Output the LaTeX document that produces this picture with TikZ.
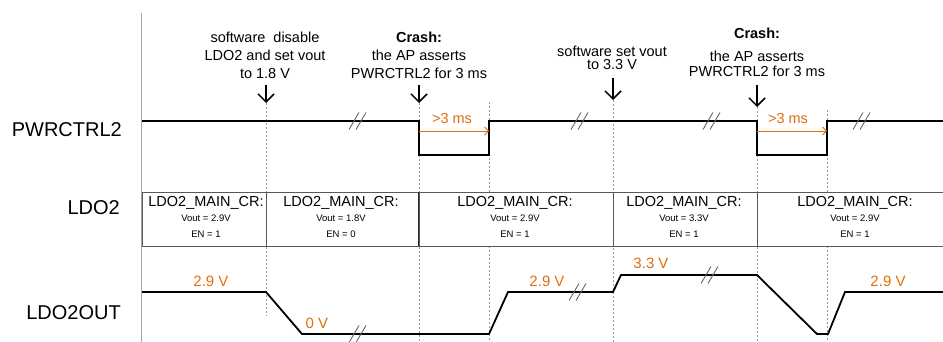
\documentclass[tikz,border=0pt]{standalone}
\usepackage{fontspec}
\setmainfont{Liberation Sans}
\usetikzlibrary{arrows.meta}
\definecolor{orng}{HTML}{E46C0A}
\newcommand\ldocellnodes[5]{%
  \node[cellhd] (#1h) at (#2,203) {LDO2\_MAIN\_CR:};
  \node[cellsm] (#1v) at (#2,218) {Vout = #3};
  \node[cellsm] (#1e) at (#2,234) {EN = #4};
}
\begin{document}
\begin{tikzpicture}[x=1pt,y=-1pt,
  sig/.style={line width=1.8pt, black, line join=miter},
  guide/.style={draw=black!40, line width=0.6pt, dash pattern=on 2pt off 2pt},
  brk/.style={draw=black!60, line width=0.9pt},
  ann/.style={font=\fontsize{14.5}{18}\selectfont, align=center, inner sep=0pt},
  lbl/.style={font=\fontsize{20}{24}\selectfont, anchor=east, inner sep=0pt},
  volt/.style={text=orng, font=\fontsize{15}{18}\selectfont, inner sep=0pt},
  cellbox/.style={draw=black!65, fill=white, line width=0.8pt, minimum height=54pt, inner sep=0pt},
  cellhd/.style={font=\fontsize{14.5}{17}\selectfont, inner sep=0pt},
  cellsm/.style={font=\fontsize{9.5}{11}\selectfont, inner sep=0pt},
  evarrow/.style={-{Straight Barb[length=8pt,width=16pt]}, line width=1.5pt},
  durarrow/.style={draw=orng, line width=0.8pt, -{Straight Barb[length=4pt,width=8pt]}}
]
\useasboundingbox (0,0) rectangle (943,342);

% guide lines
\coordinate (g1t) at (266,103); \coordinate (g1b) at (266,316);
\coordinate (g2t) at (419,103); \coordinate (g2b) at (419,342);
\coordinate (g3t) at (489,102); \coordinate (g3b) at (489,342);
\coordinate (g4t) at (613,100); \coordinate (g4b) at (613,342);
\coordinate (g5t) at (757,107); \coordinate (g5b) at (757,342);
\coordinate (g6t) at (827,110); \coordinate (g6b) at (827,342);
\foreach \i in {1,...,6} { \draw[guide] (g\i t) -- (g\i b); }

% row labels
\node[lbl] (lp) at (122,130) {PWRCTRL2};
\node[lbl] (ll) at (120,208) {LDO2};
\node[lbl] (lo) at (121,313) {LDO2OUT};

% LDO2 register table
\node[cellbox, minimum width=124pt] (c1) at (204,219) {};
\node[cellbox, minimum width=153pt] (c2) at (342.5,219) {};
\node[cellbox, minimum width=194pt] (c3) at (516,219) {};
\node[cellbox, minimum width=144pt] (c4) at (685,219) {};
\node[cellbox, minimum width=190pt] (c5) at (852,219) {};
\draw[line width=1.1pt, black!85] (c3.north west) -- (c3.south west);
\ldocellnodes{t1}{206}{2.9V}{1}{}
\ldocellnodes{t2}{341}{1.8V}{0}{}
\ldocellnodes{t3}{515}{2.9V}{1}{}
\ldocellnodes{t4}{684}{3.3V}{1}{}
\ldocellnodes{t5}{855}{2.9V}{1}{}

% axis
\coordinate (axt) at (141.5,13); \coordinate (axb) at (141.5,342);
\draw[line width=1.8pt, black!35] (axt) -- (axb);

% PWRCTRL2 signal
\draw[sig] (142,121) coordinate (p0) -- (419,121) -- (419,155) -- (489,155) -- (489,121)
  -- (757,121) -- (757,155) -- (827,155) -- (827,121) -- (943,121) coordinate (p1);

% LDO2OUT signal
\draw[sig] (142,292) coordinate (o0) -- (266,292) -- (302,334) -- (489,334) -- (508,292)
  -- (613,292) -- (621,275) -- (757,275) -- (817,334) -- (828,334) -- (845,292) -- (943,292) coordinate (o1);

% break marks
\foreach \bx/\by in {358/121, 580/121, 712/121, 862/121, 358/334, 578/292, 710/275} {
  \draw[brk] (\bx-9,\by+8.5) -- (\bx+1,\by-8.5);
  \draw[brk] (\bx-2,\by+8.5) -- (\bx+8,\by-8.5);
}

% annotations
\node[ann] (a1) at (265,55) {software\ \ disable\\LDO2 and set vout\\to 1.8 V};
\node[ann] (a2) at (419,55) {\textbf{Crash:}\\the AP asserts\\PWRCTRL2 for 3 ms};
\node[ann, font=\fontsize{14.5}{13.5}\selectfont] (a3) at (612,58) {software set vout\\to 3.3 V};
\node[ann] (a4c) at (757,33) {\textbf{Crash:}};
\node[ann, font=\fontsize{14.5}{14.5}\selectfont] (a4) at (757,64) {the AP asserts\\PWRCTRL2 for 3 ms};

% event arrows
\coordinate (e1a) at (266,85);  \coordinate (e1b) at (266,103);
\coordinate (e2a) at (419,85);  \coordinate (e2b) at (419,103);
\coordinate (e3a) at (613,78);  \coordinate (e3b) at (613,100);
\coordinate (e4a) at (757,85);  \coordinate (e4b) at (757,107);
\foreach \i in {1,...,4} { \draw[evarrow] (e\i a) -- (e\i b); }

% duration arrows
\coordinate (d1a) at (419,131); \coordinate (d1b) at (489,131);
\coordinate (d2a) at (757,131); \coordinate (d2b) at (827,131);
\draw[durarrow] (d1a) -- (d1b);
\draw[durarrow] (d2a) -- (d2b);
\node[volt, font=\fontsize{14.5}{17}\selectfont] (m1) at (452,119) {>3 ms};
\node[volt, font=\fontsize{14.5}{17}\selectfont] (m2) at (788,119) {>3 ms};

% voltage labels
\node[volt] (v1) at (211,281) {2.9 V};
\node[volt] (v2) at (317,323) {0 V};
\node[volt] (v3) at (547,281) {2.9 V};
\node[volt] (v4) at (651,263) {3.3 V};
\node[volt] (v5) at (888,281) {2.9 V};
\end{tikzpicture}
\end{document}
